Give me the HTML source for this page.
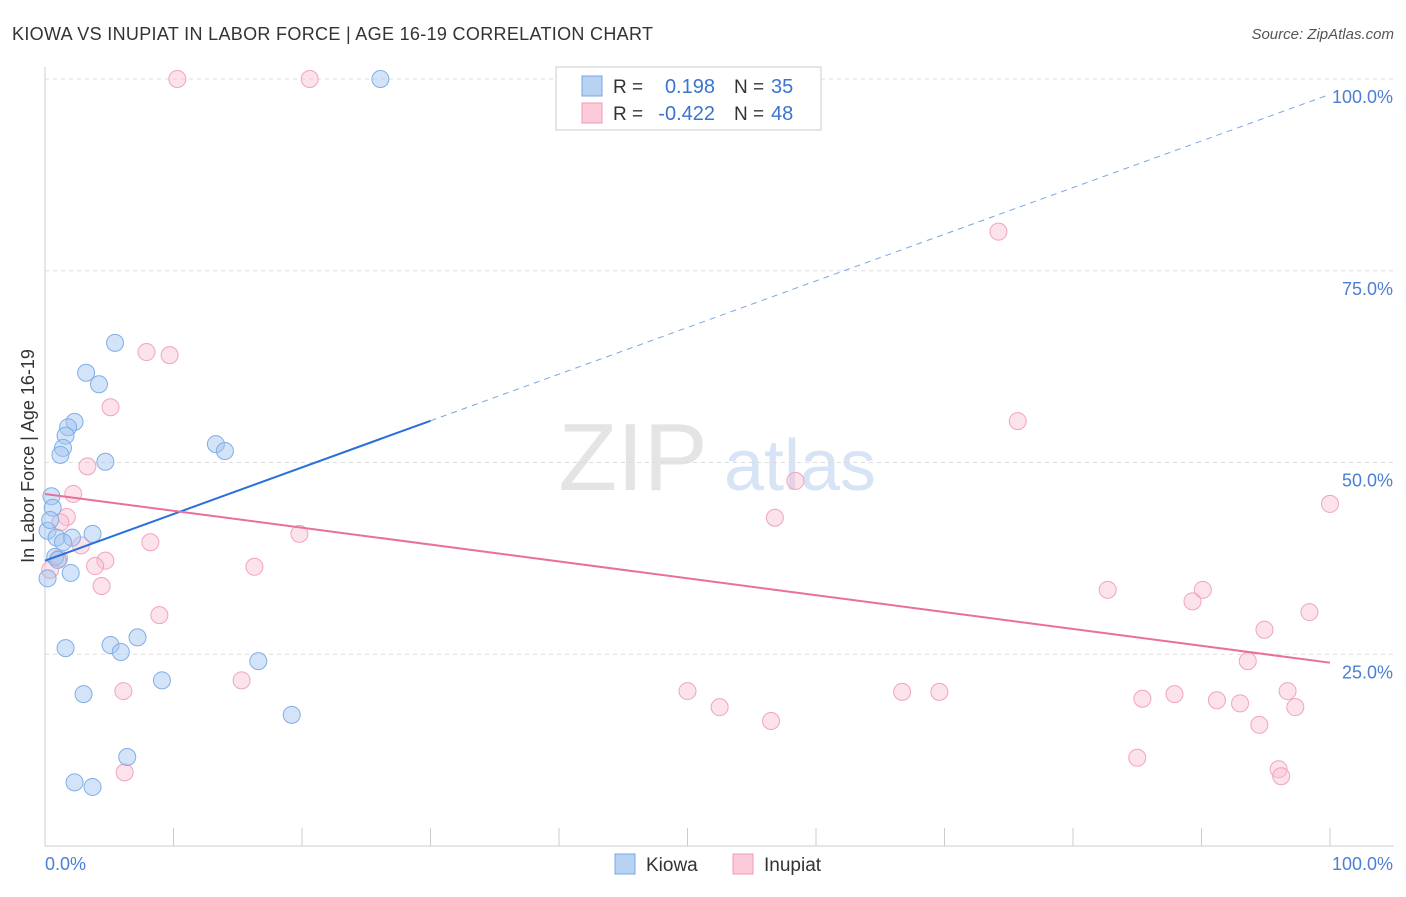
<!DOCTYPE html>
<html><head><meta charset="utf-8"><style>
body{margin:0;background:#fff;font-family:"Liberation Sans",sans-serif;}
svg text{font-family:"Liberation Sans",sans-serif;}
</style></head><body>
<svg id="chart" width="1406" height="892">
<text x="12" y="40" font-size="18" fill="#333" textLength="641">KIOWA VS INUPIAT IN LABOR FORCE | AGE 16-19 CORRELATION CHART</text>
<text x="1394" y="39" font-size="15" fill="#555" text-anchor="end" font-style="italic">Source: ZipAtlas.com</text>
<text x="633" y="490" font-size="96" fill="#e4e4e4" font-family="Liberation Serif" text-anchor="middle">ZIP</text>
<text x="800" y="490" font-size="72" fill="#d6e4f5" text-anchor="middle">atlas</text>
<g id="grid"></g>
<g id="axes"></g>
<g id="marks"></g>
<text x="34" y="456" font-size="18" fill="#333" text-anchor="middle" transform="rotate(-90 34 456)">In Labor Force | Age 16-19</text>
<g>
<rect x="556" y="67" width="265" height="63" fill="#fff" stroke="#ccc"/>
<rect x="582" y="76" width="20" height="20" fill="#b8d2f4" stroke="#7aa7e0"/>
<rect x="582" y="103" width="20" height="20" fill="#fbcbd9" stroke="#f09ab6"/>
<text x="613" y="93" font-size="19" fill="#333">R =</text>
<text x="715" y="93" font-size="20" fill="#3a74d0" text-anchor="end">0.198</text>
<text x="734" y="93" font-size="19" fill="#333">N =</text>
<text x="771" y="93" font-size="20" fill="#3a74d0">35</text>
<text x="613" y="120" font-size="19" fill="#333">R =</text>
<text x="715" y="120" font-size="20" fill="#3a74d0" text-anchor="end">-0.422</text>
<text x="734" y="120" font-size="19" fill="#333">N =</text>
<text x="771" y="120" font-size="20" fill="#3a74d0">48</text>
</g>
<g>
<rect x="615" y="854" width="20" height="20" fill="#b8d2f4" stroke="#7aa7e0"/>
<text x="646" y="871" font-size="19" fill="#333">Kiowa</text>
<rect x="733" y="854" width="20" height="20" fill="#fbcbd9" stroke="#f09ab6"/>
<text x="764" y="871" font-size="19" fill="#333">Inupiat</text>
</g>
</svg>
<script>
const kiowaX=[26.1,5.45,3.2,4.2,2.3,1.8,1.6,1.4,1.2,4.7,13.3,14.0,0.5,0.6,3.7,0.2,0.9,2.1,1.4,0.8,1.0,2.0,0.2,7.2,5.1,1.6,5.9,16.6,9.1,3.0,19.2,6.4,2.3,3.7,0.4];
const kiowaY=[100,65.6,61.7,60.2,55.3,54.6,53.5,51.9,51.0,50.1,52.4,51.5,45.6,44.1,40.7,41.1,40.2,40.2,39.6,37.7,37.3,35.6,34.9,27.2,26.2,25.8,25.3,24.1,21.6,19.8,17.1,11.6,8.3,7.7,42.5];
const inupiatX=[10.3,20.6,74.2,7.9,9.7,5.1,75.7,3.3,58.4,2.2,100,1.7,1.2,56.8,8.2,19.8,2.8,1.1,4.7,3.9,16.3,0.4,4.4,82.7,90.1,89.3,8.9,98.4,94.9,93.6,15.3,6.1,50.0,66.7,69.6,85.4,87.9,96.7,91.2,93.0,97.3,52.5,56.5,94.5,85.0,96.0,96.2,6.2];
const inupiatY=[100,100,80.1,64.4,64.0,57.2,55.4,49.5,47.6,45.9,44.6,42.9,42.2,42.8,39.6,40.7,39.2,37.5,37.2,36.5,36.4,36.0,33.9,33.4,33.4,31.9,30.1,30.5,28.2,24.1,21.6,20.2,20.2,20.1,20.1,19.2,19.8,20.2,19.0,18.6,18.1,18.1,16.3,15.8,11.5,10.0,9.1,9.6];
const kiowaTrend=[37.2,98.0];
const inupiatTrend=[45.9,23.9];
const yTicks=[25,50,75,100];
const yTickLabels=["25.0%","50.0%","75.0%","100.0%"];
const xTicks=[0,10,20,30,40,50,60,70,80,90,100];

const NS="http://www.w3.org/2000/svg";
const X0=45,X1=1330,Y0=846,Y100=79;
const sx=v=>X0+(X1-X0)*v/100;
const sy=v=>Y0-(Y0-Y100)*v/100;
function mk(tag,attrs,parent){const e=document.createElementNS(NS,tag);for(const k in attrs)e.setAttribute(k,attrs[k]);parent.appendChild(e);return e;}
const grid=document.getElementById('grid'),axes=document.getElementById('axes'),marks=document.getElementById('marks');
yTicks.forEach((t,i)=>{
  const l=mk('line',{x1:X0,x2:1394,y1:sy(t),y2:sy(t),stroke:'#dddddd','stroke-dasharray':'4,4'},grid);
  
  
  const tx=mk('text',{x:1393,y:sy(t)+24,'font-size':18,fill:'#4a7fd4','text-anchor':'end'},grid);
  tx.textContent=yTickLabels[i];
  
  
});
const ya=mk('line',{x1:X0,x2:X0,y1:67,y2:Y0,stroke:'#ccc'},axes);


const xa=mk('line',{x1:X0,x2:1394,y1:Y0,y2:Y0,stroke:'#ccc'},axes);


xTicks.forEach(t=>{
  const l=mk('line',{x1:sx(t),x2:sx(t),y1:828,y2:Y0,stroke:'#ccc'},axes);
  
  
});
const xl0=mk('text',{x:45,y:870,'font-size':18,fill:'#4a7fd4'},axes);xl0.textContent='0.0%';


const xl1=mk('text',{x:1393,y:870,'font-size':18,fill:'#4a7fd4','text-anchor':'end'},axes);xl1.textContent='100.0%';



inupiatX.forEach((x,i)=>{
  const c=mk('circle',{cx:sx(x),cy:sy(inupiatY[i]),r:8.5,fill:'rgba(248,190,210,0.45)',stroke:'#f0a4be','stroke-width':1},marks);
  
  
});
kiowaX.forEach((x,i)=>{
  const c=mk('circle',{cx:sx(x),cy:sy(kiowaY[i]),r:8.5,fill:'rgba(160,196,240,0.45)',stroke:'#80aee6','stroke-width':1},marks);
  
  
});
const kEnd=30;
const kyAt=v=>kiowaTrend[0]+(kiowaTrend[1]-kiowaTrend[0])*v/100;
const kd=mk('line',{x1:sx(kEnd),y1:sy(kyAt(kEnd)),x2:sx(100),y2:sy(kiowaTrend[1]),stroke:'#7aa7e0','stroke-width':1,'stroke-dasharray':'6,5'},marks);


const ks=mk('line',{x1:sx(0),y1:sy(kiowaTrend[0]),x2:sx(kEnd),y2:sy(kyAt(kEnd)),stroke:'#2a6fdb','stroke-width':2},marks);


const ps=mk('line',{x1:sx(0),y1:sy(inupiatTrend[0]),x2:sx(100),y2:sy(inupiatTrend[1]),stroke:'#e8709a','stroke-width':2},marks);


</script>
</body></html>
